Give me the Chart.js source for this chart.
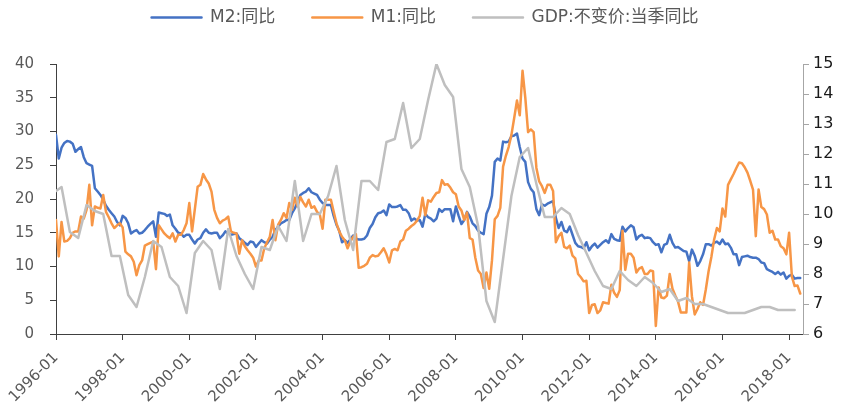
<!DOCTYPE html>
<html>
<head>
<meta charset="utf-8">
<script src="https://cdn.jsdelivr.net/npm/chart.js@4.4.1/dist/chart.umd.min.js"></script>
<style>
    html, body { margin: 0; padding: 0; background: #fff; }
    #wrap { width: 850px; height: 405px; }
</style>
</head>
<body>
<div id="wrap"><canvas id="money_gdp" width="850" height="405"></canvas></div>
<script>
// month labels 1996-01 .. 2018-06
var months = [];
for (var yr = 1996; yr <= 2018; yr++) {
    for (var mo = 1; mo <= 12; mo++) {
        if (yr === 2018 && mo > 6) break;
        months.push(yr + '-' + (mo < 10 ? '0' + mo : mo));
    }
}

var tickMonths = ['1996-01', '1998-01', '2000-01', '2002-01', '2004-01', '2006-01',
    '2008-01', '2010-01', '2012-01', '2014-01', '2016-01', '2018-01'];

// M2 yoy, 1996-01 .. 2018-05
var m2Growth = [
    29.5, 26.0, 27.6, 28.3, 28.6, 28.5, 28.2, 27.0, 27.4, 27.7, 26.2, 25.3,
    25.1, 24.9, 21.6, 21.1, 20.6, 19.9, 19.0, 18.4, 17.9, 17.4, 16.6, 16.1,
    17.5, 17.2, 16.4, 14.9, 15.2, 15.4, 14.9, 15.0, 15.4, 15.9, 16.3, 16.7,
    14.4, 18.0, 17.9, 17.8, 17.5, 17.7, 16.1, 15.6, 15.0, 14.9, 14.4, 14.7,
    14.7, 14.0, 13.4, 14.0, 14.2, 15.0, 15.5, 15.0, 14.9, 15.0, 15.0, 14.2,
    14.6, 15.2, 14.9, 14.7, 14.8, 14.9, 14.2, 13.9, 13.5, 13.2, 13.7, 13.6,
    12.9, 13.4, 13.9, 13.6, 13.4, 14.0, 14.4, 15.4, 15.9, 16.4, 16.6, 16.9,
    16.9, 17.9, 18.6, 19.6, 20.6, 20.9, 21.1, 21.6, 21.0, 20.8, 20.6, 19.9,
    19.4, 19.1, 19.1, 19.1, 17.5, 16.2, 15.3, 13.6, 13.9, 13.5, 14.0, 14.6,
    14.1, 14.0, 14.0, 14.1, 14.6, 15.7, 16.3, 17.3, 17.9, 18.0, 18.3, 17.6,
    19.2, 18.8, 18.8, 18.9, 19.1, 18.4, 18.4, 17.9, 16.8, 17.1, 16.8, 16.9,
    15.9, 17.8, 17.3, 17.1, 16.7, 17.1, 18.5, 18.1, 18.5, 18.5, 18.5, 16.7,
    18.9, 17.5, 16.3, 16.9, 18.1, 17.4, 16.4, 16.0, 15.3, 15.0, 14.8, 17.8,
    18.8, 20.5, 25.5, 26.0, 25.7, 28.5, 28.4, 28.5, 29.3, 29.4, 29.7, 27.7,
    26.0, 25.5, 22.5, 21.5, 21.0, 18.5, 17.6, 19.2, 19.0, 19.3, 19.5, 19.7,
    17.2, 15.7, 16.6, 15.3, 15.1, 15.9, 14.7, 13.5, 13.0, 12.9, 12.7, 13.6,
    12.4, 13.0, 13.4, 12.8, 13.2, 13.6, 13.9, 13.5, 14.8, 14.1, 13.9, 13.8,
    15.9, 15.2, 15.7, 16.1, 15.8, 14.0, 14.5, 14.7, 14.2, 14.3, 14.2, 13.6,
    13.2, 13.3, 12.1, 13.2, 13.4, 14.7, 13.5, 12.8, 12.9, 12.6, 12.3, 12.2,
    10.8, 12.5, 11.6, 10.1, 10.8, 11.8, 13.3, 13.3, 13.1, 13.5, 13.7, 13.3,
    14.0, 13.3, 13.4, 12.8, 11.8, 11.8, 10.2, 11.4, 11.5, 11.6, 11.4, 11.3,
    11.3, 11.1, 10.6, 10.5, 9.6, 9.4, 9.2, 8.9, 9.2, 8.8, 9.1, 8.2,
    8.6, 8.8, 8.2, 8.3, 8.3
];

// M1 yoy, 1996-01 .. 2018-05
var m1Growth = [
    16.9, 11.5, 16.6, 13.7, 13.8, 14.2, 15.0, 15.2, 15.2, 17.4, 17.1, 18.4,
    22.1, 16.1, 18.9, 18.7, 18.6, 20.6, 18.1, 17.3, 16.4, 15.7, 16.1, 16.4,
    15.8, 12.2, 11.8, 11.5, 10.7, 8.7, 10.2, 10.9, 13.1, 13.3, 13.5, 13.7,
    9.6, 16.1, 15.5, 14.9, 14.5, 14.2, 14.9, 13.7, 14.7, 14.7, 15.4, 16.4,
    19.4, 15.2, 18.5, 21.8, 22.1, 23.7, 22.9, 22.3, 21.1, 18.4, 17.2, 16.4,
    16.8, 17.0, 17.4, 15.2, 15.0, 14.9, 11.9, 13.9, 13.0, 12.4, 11.9, 11.3,
    10.0, 10.9, 10.9, 12.7, 13.6, 14.4, 16.9, 13.9, 16.2, 16.9, 17.9, 17.2,
    19.4, 18.4, 20.2, 18.9, 20.3, 19.5, 18.9, 19.9, 18.7, 18.9, 18.1, 17.7,
    15.6, 19.9, 19.9, 19.9, 18.1, 16.4, 15.2, 14.4, 13.9, 12.7, 13.7, 14.4,
    14.8, 9.8, 9.9, 10.1, 10.4, 11.3, 11.7, 11.5, 11.6, 12.1, 12.7, 11.8,
    10.6, 12.4, 12.6, 12.4, 13.7, 14.0, 15.3, 15.6, 16.0, 16.3, 16.8, 17.5,
    20.2, 17.6, 19.8, 19.6, 20.3, 20.9, 21.0, 22.8, 22.1, 22.2, 21.7, 21.0,
    20.7, 18.9, 18.3, 16.9, 18.0, 14.2, 14.0, 11.3, 9.4, 8.9, 6.8, 9.1,
    6.7, 10.9, 17.0, 17.5, 18.7, 24.8, 26.4, 27.7, 29.5, 32.0, 34.6, 32.4,
    39.0, 35.0, 29.9, 30.3, 29.9, 24.6, 22.6, 21.9, 20.9, 22.1, 22.1, 21.2,
    13.6, 14.5, 15.0, 12.9, 12.7, 13.1, 11.6, 11.2, 8.9, 8.4, 7.8, 7.9,
    3.1, 4.3, 4.4, 3.1, 3.5, 4.7, 4.6, 4.5, 7.3, 6.1, 5.5, 6.5,
    15.3, 9.5, 11.9, 11.9, 11.3, 9.1, 9.7, 9.9, 8.9, 8.9, 9.4, 9.3,
    1.2, 6.9, 5.4, 5.3, 5.7, 8.9, 6.7, 5.7, 4.8, 3.2, 3.2, 3.2,
    10.6, 5.6, 2.9, 3.7, 4.7, 4.3, 6.6, 9.3, 11.4, 14.0, 15.7, 15.2,
    18.6, 17.4, 22.1, 22.9, 23.7, 24.6, 25.4, 25.3, 24.7, 23.9, 22.7, 21.4,
    14.5, 21.4, 18.8, 18.5, 17.7, 15.0, 15.3, 14.0, 14.0, 13.0, 12.7, 11.8,
    15.0, 8.5, 7.1, 7.2, 6.0
];

// quarters 1995Q4 .. 2018Q1
var gdpQuarters = ['1995Q4'];
for (var qy = 1996; qy <= 2018; qy++) {
    for (var q = 1; q <= 4; q++) {
        if (qy === 2018 && q > 1) break;
        gdpQuarters.push(qy + 'Q' + q);
    }
}

// GDP constant price, quarterly yoy (right axis)
var gdpGrowth = [
    10.7,
    10.9, 9.4, 9.2, 10.3,
    10.1, 10.0, 8.6, 8.6,
    7.3, 6.9, 7.9, 9.1,
    8.9, 7.9, 7.6, 6.7,
    8.7, 9.1, 8.8, 7.5,
    9.5, 8.6, 8.0, 7.5,
    8.9, 8.8, 9.6, 9.1,
    11.1, 9.1, 10.0, 10.0,
    10.6, 11.6, 9.8, 8.8,
    11.1, 11.1, 10.8, 12.4,
    12.5, 13.7, 12.2, 12.5,
    13.8, 15.0, 14.3, 13.9,
    11.5, 10.9, 9.6, 7.1,
    6.4, 8.5, 10.6, 11.9,
    12.2, 11.0, 9.9, 9.9,
    10.2, 10.0, 9.3, 8.7,
    8.1, 7.6, 7.5, 8.1,
    7.8, 7.6, 7.9, 7.7,
    7.4, 7.5, 7.1, 7.2,
    7.0, 7.0, 6.9, 6.8,
    6.7, 6.7, 6.7, 6.8,
    6.9, 6.9, 6.8, 6.8,
    6.8
];

function toMonthPoints(values) {
    return values.map(function (v, i) {
        return {x: i, y: v};
    });
}

// quarter value sits on the quarter's last month
function toQuarterPoints(labels, values) {
    return values.map(function (v, k) {
        var year = parseInt(labels[k].slice(0, 4), 10);
        var quarter = parseInt(labels[k].slice(5), 10);
        return {x: (year - 1996) * 12 + quarter * 3 - 1, y: v};
    });
}

var legendHeight = {
    id: 'legendHeight',
    beforeLayout: function (chart) {
        if (chart.legend && !chart.legend._patched) {
            var fit = chart.legend.fit;
            chart.legend.fit = function () {
                fit.call(this);
                this.height = 92;
            };
            chart.legend._patched = true;
        }
    }
};

function createMoneyGdpChart() {
    var canvas = document.getElementById('money_gdp');
    var ctx = canvas.getContext('2d');

    var blue = '#4472c4';
    var orange = '#f79646';
    var grey = '#bfbfbf';
    var axisFont = {family: '"DejaVu Sans", sans-serif', size: 15};

    var tickIndex = tickMonths.map(function (m) { return months.indexOf(m); });

    new Chart(ctx, {
        type: 'line',
        data: {
            datasets: [{
                label: 'M2:同比',
                data: toMonthPoints(m2Growth),
                borderColor: blue,
                backgroundColor: blue,
                yAxisID: 'y',
                order: 3
            }, {
                label: 'M1:同比',
                data: toMonthPoints(m1Growth),
                borderColor: orange,
                backgroundColor: orange,
                yAxisID: 'y',
                order: 2
            }, {
                label: 'GDP:不变价:当季同比',
                data: toQuarterPoints(gdpQuarters, gdpGrowth),
                borderColor: grey,
                backgroundColor: grey,
                yAxisID: 'y1',
                order: 1
            }]
        },
        options: {
            responsive: false,
            animation: false,
            devicePixelRatio: 1,
            layout: {padding: {top: -28, left: 0, right: 0, bottom: 0}},
            elements: {
                point: {radius: 0},
                line: {borderWidth: 2.5, tension: 0, borderJoinStyle: 'round', borderCapStyle: 'round'}
            },
            plugins: {
                tooltip: {enabled: false},
                legend: {
                    position: 'top',
                    labels: {
                        boxWidth: 50,
                        boxHeight: 0,
                        padding: 37,
                        color: '#595959',
                        font: {family: '"DejaVu Sans", "Noto Sans CJK SC", sans-serif', size: 17},
                        sort: function (a, b) { return a.datasetIndex - b.datasetIndex; }
                    }
                }
            },
            scales: {
                x: {
                    type: 'linear',
                    min: 0,
                    max: 269,
                    afterBuildTicks: function (axis) {
                        axis.ticks = tickIndex.map(function (v) { return {value: v}; });
                    },
                    afterFit: function (scale) { scale.height = 71; },
                    grid: {drawOnChartArea: false, drawTicks: true, tickLength: 6, tickColor: '#404040'},
                    border: {display: true, color: '#404040', width: 1},
                    ticks: {
                        autoSkip: false,
                        minRotation: 45,
                        maxRotation: 45,
                        padding: 9,
                        color: '#595959',
                        font: axisFont,
                        callback: function (value) { return months[value]; }
                    }
                },
                y: {
                    position: 'left',
                    min: 0,
                    max: 40,
                    afterFit: function (scale) { scale.width = 56; },
                    grid: {drawOnChartArea: false, drawTicks: true, tickLength: 6, tickColor: '#404040'},
                    border: {display: true, color: '#404040', width: 1},
                    ticks: {stepSize: 5, padding: 16, color: '#595959', font: axisFont}
                },
                y1: {
                    position: 'right',
                    min: 6,
                    max: 15,
                    afterFit: function (scale) { scale.width = 47; },
                    grid: {drawOnChartArea: false, drawTicks: true, tickLength: 6, tickColor: '#a6a6a6'},
                    border: {display: true, color: '#a6a6a6', width: 1},
                    ticks: {stepSize: 1, padding: 4, color: '#1a1a1a', font: {family: '"DejaVu Sans", sans-serif', size: 16}}
                }
            }
        },
        plugins: [legendHeight]
    });
}

createMoneyGdpChart();
</script>
</body>
</html>
